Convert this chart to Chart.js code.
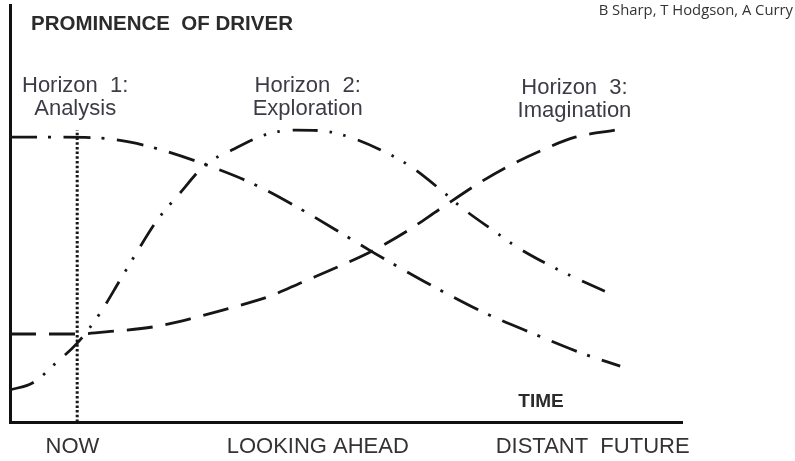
<!DOCTYPE html>
<html>
<head>
<meta charset="utf-8">
<script src="https://cdn.jsdelivr.net/npm/chart.js@4.4.1/dist/chart.umd.min.js"></script>
<style>
  html, body { margin: 0; padding: 0; background: #ffffff; }
  #wrap { width: 795px; height: 461px; }
</style>
</head>
<body>
<div id="wrap"><canvas id="c" width="795" height="461"></canvas></div>
<script>
// ---- data (time units 0..100, prominence 0..100) ----
const h1Time = [0, 7.4, 13.4, 17.9, 23.1, 29.3, 36.2, 43.2, 50.0, 53.9, 56.8, 63.7, 70.7, 78.0, 85.4, 90.8];
const h1Prominence = [68.3, 68.3, 68.1, 67.1, 65.0, 61.6, 57.1, 51.1, 44.6, 40.8, 38.1, 31.9, 26.1, 21.1, 16.3, 13.4];

const h2Time = [0, 3.4, 7.0, 10.0, 13.4, 16.4, 18.6, 21.9, 25.3, 29.0, 33.0, 38.4, 42.6, 46.6, 50.6, 56.1, 59.5, 64.3, 67.3, 72.2, 75.4, 80.5, 84.2, 89.7];
const h2Prominence = [7.7, 9.4, 14.4, 18.9, 26.1, 34.1, 40.0, 48.4, 54.9, 61.6, 65.2, 69.1, 70.0, 69.8, 68.3, 64.5, 61.4, 55.4, 51.3, 45.6, 42.0, 37.4, 34.5, 30.5];

const h3Time = [0, 9.7, 15.6, 21.3, 27.2, 32.7, 38.4, 43.6, 49.1, 53.9, 59.1, 64.0, 70.1, 74.0, 78.9, 84.1, 90.0];
const h3Prominence = [21.1, 21.1, 21.8, 22.8, 24.9, 27.3, 30.0, 33.6, 37.4, 41.0, 45.8, 51.1, 57.6, 61.2, 65.0, 68.3, 70.0];

const nowTime = [10.0, 10.0];
const nowProminence = [0, 70.0];

const tickPositions = [9.3, 45.8, 86.7];
const tickLabels = ['NOW', 'LOOKING AHEAD', 'DISTANT  FUTURE'];

const horizonTitles = ['Horizon  1:', 'Horizon  2:', 'Horizon  3:'];
const horizonNames = ['Analysis', 'Exploration', 'Imagination'];
const horizonCenters = [9.7, 44.3, 84.0];

const yTitle = 'PROMINENCE  OF DRIVER';
const xTitle = 'TIME';
const credit = 'B Sharp, T Hodgson, A Curry';

function pts(xs, ys) { return xs.map((x, i) => ({ x: x, y: ys[i] })); }

const INK = '#161616';

const textPlugin = {
  id: 'texts',
  afterDraw(chart) {
    const ctx = chart.ctx;
    const xs = chart.scales.x;
    ctx.save();
    ctx.textBaseline = 'alphabetic';
    // y title
    ctx.fillStyle = '#2b2b2b';
    ctx.font = 'bold 20.5px "Liberation Sans", Arial, sans-serif';
    ctx.textAlign = 'left';
    ctx.fillText(yTitle, 31, 30);
    // x title
    ctx.font = 'bold 19px "Liberation Sans", Arial, sans-serif';
    ctx.textAlign = 'center';
    ctx.fillText(xTitle, 541, 407);
    // credit
    ctx.fillStyle = '#333333';
    ctx.font = '14.8px "Open Sans", sans-serif';
    ctx.textAlign = 'right';
    ctx.fillText(credit, 793, 15);
    // horizon labels
    ctx.fillStyle = '#3c3c46';
    ctx.font = '22px "Liberation Sans", Arial, sans-serif';
    ctx.textAlign = 'center';
    const extra = [0, 0, 2];
    horizonTitles.forEach((t, i) => {
      const cx = xs.getPixelForValue(horizonCenters[i]);
      ctx.fillText(t, cx, 92 + extra[i]);
      ctx.fillText(horizonNames[i], cx, 115 + extra[i]);
    });
    ctx.restore();
  }
};

const lineBase = {
  showLine: true,
  pointRadius: 0,
  pointHoverRadius: 0,
  fill: false,
  borderColor: INK,
  borderWidth: 2.8,
  borderCapStyle: 'butt',
  cubicInterpolationMode: 'monotone'
};

new Chart(document.getElementById('c'), {
  type: 'scatter',
  data: {
    datasets: [
      Object.assign({}, lineBase, { label: 'Horizon 1', data: pts(h1Time, h1Prominence), borderDash: [27, 11, 3, 12.5] }),
      Object.assign({}, lineBase, { label: 'Horizon 2', data: pts(h2Time, h2Prominence), borderDash: [25, 12, 2.5, 11.5, 2.5, 13] }),
      Object.assign({}, lineBase, { label: 'Horizon 3', data: pts(h3Time, h3Prominence), borderDash: [26, 13] }),
      Object.assign({}, lineBase, { label: 'Now', data: pts(nowTime, nowProminence), borderDash: [2.5, 2.2], borderWidth: 3, cubicInterpolationMode: 'default', tension: 0 })
    ]
  },
  options: {
    responsive: false,
    animation: false,
    devicePixelRatio: 1,
    layout: { padding: { left: 10, top: 5, right: 113, bottom: 0 } },
    plugins: { legend: { display: false }, tooltip: { enabled: false }, title: { display: false } },
    events: [],
    scales: {
      x: {
        type: 'linear', min: 0, max: 100,
        grid: { display: false, drawTicks: false },
        border: { display: true, color: '#111111', width: 3 },
        afterBuildTicks: (scale) => { scale.ticks = tickPositions.map(v => ({ value: v })); },
        afterFit: (scale) => { scale.height = 39; },
        ticks: {
          autoSkip: false, maxRotation: 0, minRotation: 0, padding: 12,
          color: '#333333',
          font: { family: '"Liberation Sans", Arial, sans-serif', size: 22 },
          callback: (value) => { const i = tickPositions.indexOf(value); return i >= 0 ? tickLabels[i] : ''; }
        }
      },
      y: {
        type: 'linear', min: 0, max: 100,
        grid: { display: false, drawTicks: false },
        border: { display: true, color: '#111111', width: 3 },
        ticks: { display: false }
      }
    }
  },
  plugins: [textPlugin]
});
</script>
</body>
</html>
